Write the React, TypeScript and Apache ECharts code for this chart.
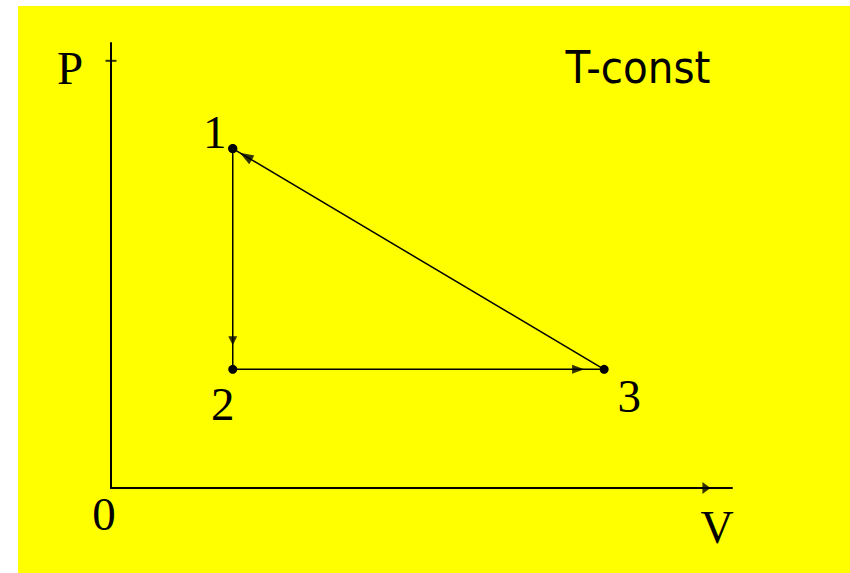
import React, { useEffect, useRef } from "react";
import * as echarts from "echarts";

// Cycle vertices (V, P)
const stateNames = ["1", "2", "3"];
const volumes = [2, 2, 8.1];
const pressures = [5.72, 2, 2];
// Offsets of the state labels relative to their points
const labelOffsets = [[-18, -17], [-10, 35], [25, 27]];
// Position of arrowhead along each segment (fraction from start to end)
const arrowAt = [0.87, 0.93, 0.965];
const arrowSizes = [[9, 9], [9, 12], [10, 14]];
// Axis extents
const vMax = 10.2;
const pMax = 7.5;
const axisArrowV = 9.78;
const axisTickP = 7.2;

const SERIF = "'Liberation Serif', 'Times New Roman', serif";

export default function App() {
  const ref = useRef<HTMLDivElement>(null);

  useEffect(() => {
    document.body.style.margin = "0";
    if (!ref.current) return;
    const chart = echarts.init(ref.current, undefined, { renderer: "svg" });

    const pts = volumes.map((v, i) => [v, pressures[i]]);
    const cycle = [...pts, pts[0]];

    const lineData = cycle.map((p, i) => ({
      value: p,
      label:
        i < 3
          ? {
              show: true,
              formatter: stateNames[i],
              position: "inside",
              offset: labelOffsets[i],
              fontFamily: SERIF,
              fontSize: 47,
              color: "#000",
              align: "center",
              verticalAlign: "middle",
            }
          : { show: false },
    }));

    const baseOption: any = {
      animation: false,
      backgroundColor: "#ffffff",
      grid: {
        left: 111,
        top: 43,
        width: 621,
        height: 445,
        containLabel: false,
        outerBoundsMode: "none",
      },
      xAxis: {
        type: "value",
        min: 0,
        max: vMax,
        axisLine: { show: true, onZero: false, lineStyle: { color: "#000", width: 2 } },
        axisTick: { show: false },
        axisLabel: { show: false },
        splitLine: { show: false },
      },
      yAxis: {
        type: "value",
        min: 0,
        max: pMax,
        axisLine: { show: true, onZero: false, lineStyle: { color: "#000", width: 2 } },
        axisTick: { show: false },
        axisLabel: { show: false },
        splitLine: { show: false },
      },
      graphic: [
        {
          type: "rect",
          shape: { x: 18, y: 6, width: 832, height: 567 },
          style: { fill: "#ffff00" },
          z: -10,
          silent: true,
        },
        {
          type: "text",
          x: 70,
          y: 68,
          style: { text: "P", fontFamily: SERIF, fontSize: 47, fill: "#000", align: "center", verticalAlign: "middle" },
        },
        {
          type: "text",
          x: 104,
          y: 514,
          style: { text: "0", fontFamily: SERIF, fontSize: 47, fill: "#000", align: "center", verticalAlign: "middle" },
        },
        {
          type: "text",
          x: 717,
          y: 527,
          style: { text: "V", fontFamily: SERIF, fontSize: 46, fill: "#000", align: "center", verticalAlign: "middle" },
        },
        {
          type: "text",
          x: 638,
          y: 67,
          style: {
            text: "T-const",
            fontFamily: "'DejaVu Sans Condensed', 'DejaVu Sans', sans-serif",
            fontSize: 45,
            fill: "#000",
            align: "center",
            verticalAlign: "middle",
          },
        },
      ],
      series: [
        {
          type: "line",
          data: lineData,
          symbol: "circle",
          symbolSize: 9,
          showSymbol: true,
          clip: false,
          itemStyle: { color: "#000" },
          lineStyle: { color: "#000", width: 1.5 },
          z: 3,
        },
        {
          type: "scatter",
          id: "axisMarks",
          clip: false,
          data: [
            { value: [axisArrowV, 0], symbol: "triangle", symbolSize: [12, 8], symbolRotate: -90 },
            { value: [0, axisTickP], symbol: "rect", symbolSize: [11, 2] },
          ],
          itemStyle: { color: "#000" },
          z: 4,
        },
        {
          type: "scatter",
          id: "arrows",
          clip: false,
          data: [],
          itemStyle: { color: "#000" },
          z: 4,
        },
      ],
    };

    chart.setOption(baseOption);

    const arrowData = arrowAt.map((t, i) => {
      const a = cycle[i];
      const b = cycle[i + 1];
      const pos = [a[0] + (b[0] - a[0]) * t, a[1] + (b[1] - a[1]) * t];
      const pa = chart.convertToPixel({ gridIndex: 0 }, a) as number[];
      const pb = chart.convertToPixel({ gridIndex: 0 }, b) as number[];
      const dx = pb[0] - pa[0];
      const dy = pb[1] - pa[1];
      // angle in math coords (y up), triangle points up (90deg) by default
      const ang = (Math.atan2(-dy, dx) * 180) / Math.PI;
      return {
        value: pos,
        symbol: "triangle",
        symbolSize: arrowSizes[i],
        symbolRotate: ang - 90,
      };
    });

    chart.setOption({ series: [{}, {}, { id: "arrows", data: arrowData }] });

    return () => chart.dispose();
  }, []);

  return <div ref={ref} style={{ width: 850, height: 573 }} />;
}
